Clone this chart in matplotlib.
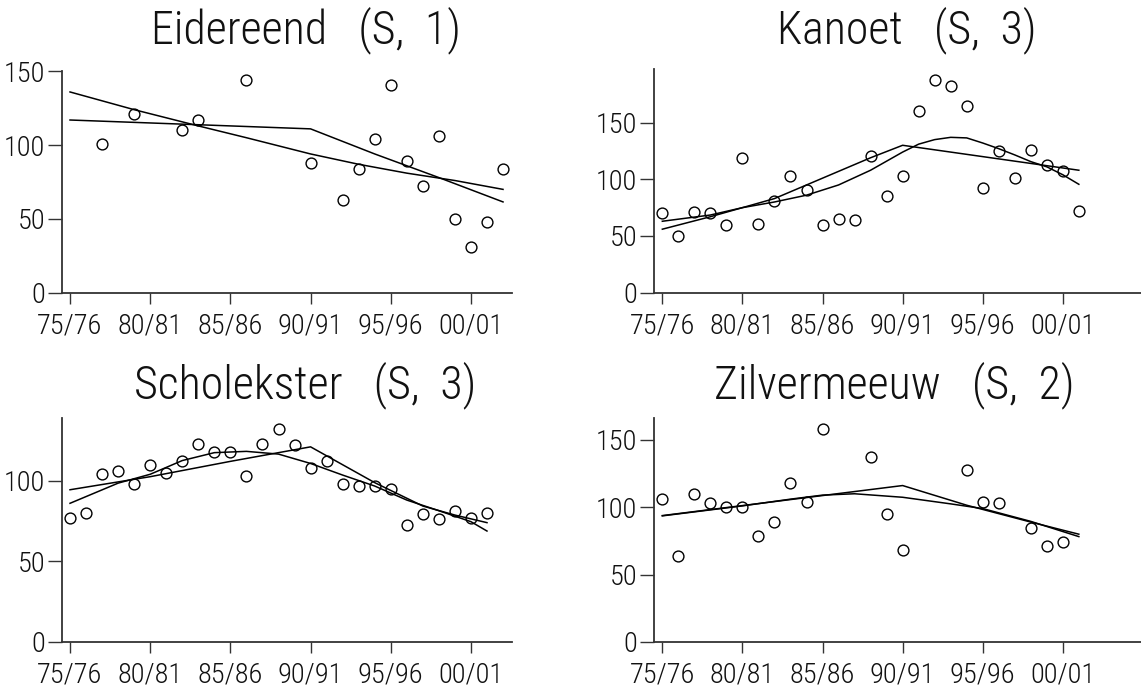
import matplotlib
matplotlib.use("Agg")
import matplotlib.pyplot as plt
from matplotlib import font_manager

# ---------------- data ----------------
tick_pos = [0, 5, 10, 15, 20, 25]
tick_labels = ["75/76", "80/81", "85/86", "90/91", "95/96", "00/01"]

titles = ["Eidereend   (S,  1)", "Kanoet   (S,  3)", "Scholekster   (S,  3)", "Zilvermeeuw   (S,  2)"]

# Eidereend
eid_years = [2, 4, 7, 8, 11, 15, 17, 18, 19, 20, 21, 22, 23, 24, 25, 26, 27]
eid_vals = [101, 121, 110, 117, 144, 88, 63, 84, 104, 141, 89, 72, 106, 50, 31, 48, 84]
eid_smooth_x = [0, 4, 8, 11, 15, 18, 21, 24, 27]
eid_smooth_y = [136, 124, 113, 105, 94, 87, 81, 76, 70]
eid_piece_x = [0, 15, 19, 23, 27]
eid_piece_y = [117, 111, 94, 78, 61.5]

# Kanoet
kan_years = list(range(0, 27))
kan_vals = [70, 50, 71.5, 70, 60, 119, 61, 81, 103, 91, 60, 65, 64, 120.5, 85.5, 103,
            160, 187.5, 182, 164.5, 92, 125, 101, 126, 113, 107, 72]
kan_smooth_x = [0, 3, 5, 7, 9, 11, 13, 15, 16, 17, 18, 19, 20, 21, 22, 23, 24, 25, 26]
kan_smooth_y = [63, 68.5, 75, 80, 86, 95, 108, 124, 131, 135, 137, 136.5, 132, 127, 121.5, 115.6, 111, 104, 95.6]
kan_piece_x = [0, 3, 5, 7, 9, 11, 13, 15, 20, 26]
kan_piece_y = [56, 67, 75, 83, 95, 107, 119, 130, 120, 108]

# Scholekster
sch_years = list(range(0, 27))
sch_vals = [77, 80, 104, 106, 98, 110, 105, 112, 123, 118, 118, 103, 123, 132, 122, 108,
            112, 98, 97, 97, 95, 72.5, 79.5, 76.5, 81, 77, 80]
sch_smooth_x = [0, 3, 5, 7, 9, 11, 13, 15, 17, 19, 21, 23, 25, 26]
sch_smooth_y = [86, 98.5, 104, 112.5, 117.4, 118.2, 116.5, 110.7, 103.5, 96.7, 88, 81.4, 74.6, 68.8]
sch_piece_x = [0, 5, 10, 15, 19, 22, 24, 26]
sch_piece_y = [94.4, 102.5, 112, 121, 98.8, 84.3, 78.7, 74]

# Zilvermeeuw
zil_years = [0, 1, 2, 3, 4, 5, 6, 7, 8, 9, 10, 13, 14, 15, 19, 20, 21, 23, 24, 25]
zil_vals = [106, 64, 110, 103, 100, 100, 79, 89, 118, 104, 158, 137, 95, 68, 128, 104, 103, 84.5, 71, 74]
zil_smooth_x = [0, 5, 8, 10, 12, 15, 18, 20, 23, 26]
zil_smooth_y = [93.6, 101, 106, 109, 110, 107.4, 102.5, 99, 89.5, 78.2]
zil_piece_x = [0, 15, 19, 23, 26]
zil_piece_y = [93.8, 116.1, 101.5, 89, 80]

panels = [
    dict(x=eid_years, y=eid_vals, sx=eid_smooth_x, sy=eid_smooth_y, px=eid_piece_x, py=eid_piece_y,
         yticks=[0, 50, 100, 150], ylim=150, xlim=27.56, box=(62, 512, 71.3, 292.7), tc=306, tb=43),
    dict(x=kan_years, y=kan_vals, sx=kan_smooth_x, sy=kan_smooth_y, px=kan_piece_x, py=kan_piece_y,
         yticks=[0, 50, 100, 150], ylim=197, xlim=29.88, box=(654, 1141, 69.3, 292.7), tc=907, tb=43),
    dict(x=sch_years, y=sch_vals, sx=sch_smooth_x, sy=sch_smooth_y, px=sch_piece_x, py=sch_piece_y,
         yticks=[0, 50, 100], ylim=138.7, xlim=27.56, box=(62, 512, 418.3, 642), tc=305, tb=398),
    dict(x=zil_years, y=zil_vals, sx=zil_smooth_x, sy=zil_smooth_y, px=zil_piece_x, py=zil_piece_y,
         yticks=[0, 50, 100, 150], ylim=166, xlim=29.88, box=(654, 1141, 418.3, 642), tc=894, tb=398),
]

# ---------------- font ----------------
family = "DejaVu Sans"
stretch = "condensed"
for cand in ["Liberation Sans Narrow", "Roboto Condensed", "Open Sans Condensed"]:
    try:
        font_manager.findfont(cand, fallback_to_default=False)
        family = cand
        stretch = "normal"
        break
    except Exception:
        pass
plt.rcParams["font.family"] = [family, "DejaVu Sans"]
weight = "light"

W, H = 1141, 693
fig = plt.figure(figsize=(W / 100, H / 100), dpi=100)
axcol = "#333333"

for i, p in enumerate(panels):
    l, r, t, b = p["box"]
    ax = fig.add_axes([l / W, 1 - b / H, (r - l) / W, (b - t) / H])
    ax.plot(p["sx"], p["sy"], color="black", lw=1.1)
    ax.plot(p["px"], p["py"], color="black", lw=1.1)
    ax.plot(p["x"], p["y"], linestyle="none", marker="o", markersize=7.8,
            markerfacecolor="none", markeredgecolor="black", markeredgewidth=1.0, clip_on=False)
    ax.set_xlim(-0.5 if i % 2 == 0 else -0.52, p["xlim"])
    ax.set_ylim(0, p["ylim"])
    for s in ["top", "right"]:
        ax.spines[s].set_visible(False)
    for s in ["left", "bottom"]:
        ax.spines[s].set_color(axcol)
        ax.spines[s].set_linewidth(1.3)
    ax.set_xticks(tick_pos)
    ax.set_xticklabels(tick_labels)
    ax.set_yticks(p["yticks"])
    ax.set_yticklabels([str(v) for v in p["yticks"]])
    ax.tick_params(axis="both", direction="out", length=8, width=1.0, color=axcol,
                   labelsize=20.5, pad=6, labelcolor="#111111")
    ax.tick_params(axis="y", length=10, pad=2)
    for lab in ax.get_xticklabels() + ax.get_yticklabels():
        lab.set_fontstretch(stretch)
        lab.set_fontweight(weight)
    fig.text(p["tc"] / W, 1 - p["tb"] / H, titles[i], ha="center", va="baseline",
             fontsize=33, color="#111111", fontstretch=stretch, fontweight=weight)

fig.savefig("out.png", dpi=100, facecolor="white")
